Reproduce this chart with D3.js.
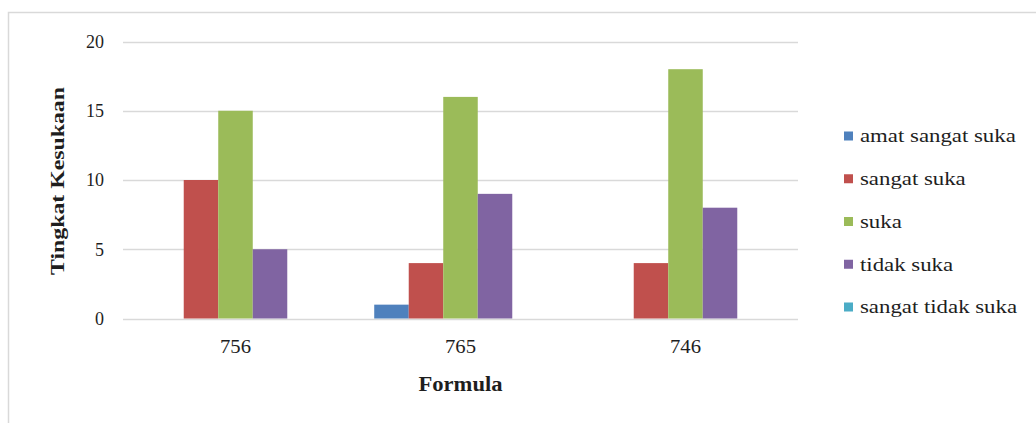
<!DOCTYPE html>
<html>
<head>
<meta charset="utf-8">
<script src="https://cdn.jsdelivr.net/npm/d3@7"></script>
<style>
  html, body { margin: 0; padding: 0; background: #fff; }
  svg { display: block; }
</style>
</head>
<body>
<svg id="chart" width="1036" height="423"></svg>
<script>
const categories = ["756", "765", "746"];
const seriesNames = ["amat sangat suka", "sangat suka", "suka", "tidak suka", "sangat tidak suka"];
const amatSangatSuka = [0, 1, 0];
const sangatSuka = [10, 4, 4];
const suka = [15, 16, 18];
const tidakSuka = [5, 9, 8];
const sangatTidakSuka = [0, 0, 0];
const yTicks = [0, 5, 10, 15, 20];
const colors = ["#4F81BD", "#C0504D", "#9BBB59", "#8064A2", "#4BACC6"];

const seriesValues = [amatSangatSuka, sangatSuka, suka, tidakSuka, sangatTidakSuka];
const FONT = "'Liberation Serif', 'Times New Roman', 'DejaVu Serif', serif";
const TEXT_COLOR = "#1e1e1e";

const svg = d3.select("#chart");

// outer border
svg.append("rect")
  .attr("x", 8.5).attr("y", 12.5)
  .attr("width", 1040).attr("height", 420)
  .attr("fill", "#fff").attr("stroke", "#d9d9d9").attr("stroke-width", 1.5);

const plot = { left: 123, right: 798, top: 41.5, bottom: 318.5 };

const y = d3.scaleLinear().domain([0, 20]).range([plot.bottom, plot.top]);
const x0 = d3.scaleBand().domain(categories).range([plot.left, plot.right]).padding(0);
const x1 = d3.scaleBand().domain(seriesNames)
  .range([0, x0.bandwidth()]).paddingInner(0).paddingOuter(0.76);

// gridlines
svg.append("g").selectAll("line").data(yTicks).join("line")
  .attr("x1", plot.left).attr("x2", plot.right)
  .attr("y1", d => Math.round(y(d)) + 0.5).attr("y2", d => Math.round(y(d)) + 0.5)
  .attr("stroke", "#d9d9d9").attr("stroke-width", 1.5);

// y tick labels
svg.append("g").selectAll("text").data(yTicks).join("text")
  .attr("x", 104).attr("y", d => y(d))
  .attr("dy", "0.35em")
  .attr("text-anchor", "end")
  .attr("font-family", FONT)
  .attr("font-size", 18)
  .attr("fill", TEXT_COLOR)
  .text(d => d);

// bars
const groups = svg.append("g").selectAll("g").data(categories).join("g")
  .attr("transform", c => `translate(${x0(c)},0)`);

groups.selectAll("rect")
  .data((c, ci) => seriesNames.map((s, si) => ({ s, si, v: seriesValues[si][ci] })))
  .join("rect")
  .attr("x", d => x1(d.s))
  .attr("width", x1.bandwidth())
  .attr("y", d => y(d.v))
  .attr("height", d => y(0) - y(d.v))
  .attr("fill", d => colors[d.si]);

// x tick labels
svg.append("g").selectAll("text").data(categories).join("text")
  .attr("x", c => x0(c) + x0.bandwidth() / 2)
  .attr("y", 353)
  .attr("text-anchor", "middle")
  .attr("font-family", FONT)
  .attr("font-size", 18)
  .attr("fill", TEXT_COLOR)
  .attr("textLength", 31)
  .attr("lengthAdjust", "spacingAndGlyphs")
  .text(c => c);

// x title
svg.append("text")
  .attr("x", (plot.left + plot.right) / 2)
  .attr("y", 391)
  .attr("text-anchor", "middle")
  .attr("font-family", FONT)
  .attr("font-size", 20)
  .attr("font-weight", "bold")
  .attr("fill", TEXT_COLOR)
  .attr("textLength", 84)
  .attr("lengthAdjust", "spacingAndGlyphs")
  .text("Formula");

// y title
svg.append("text")
  .attr("transform", "translate(64,181) rotate(-90)")
  .attr("text-anchor", "middle")
  .attr("font-family", FONT)
  .attr("font-size", 19)
  .attr("font-weight", "bold")
  .attr("fill", TEXT_COLOR)
  .attr("textLength", 188)
  .attr("lengthAdjust", "spacingAndGlyphs")
  .text("Tingkat Kesukaan");

// legend
const legendY = d3.scalePoint().domain(seriesNames).range([136, 307]);
const legend = svg.append("g").selectAll("g").data(seriesNames).join("g")
  .attr("transform", s => `translate(844,${legendY(s)})`);
legend.append("rect")
  .attr("x", 0).attr("y", -4.5).attr("width", 9).attr("height", 9)
  .attr("fill", (s, i) => colors[i]);
legend.append("text")
  .attr("x", 16).attr("y", 0).attr("dy", "0.33em")
  .attr("font-family", FONT)
  .attr("font-size", 19)
  .attr("fill", TEXT_COLOR)
  .text(s => s)
  .each(function () {
    const w = this.getComputedTextLength();
    d3.select(this).attr("textLength", w * 1.2).attr("lengthAdjust", "spacingAndGlyphs");
  });
</script>
</body>
</html>
